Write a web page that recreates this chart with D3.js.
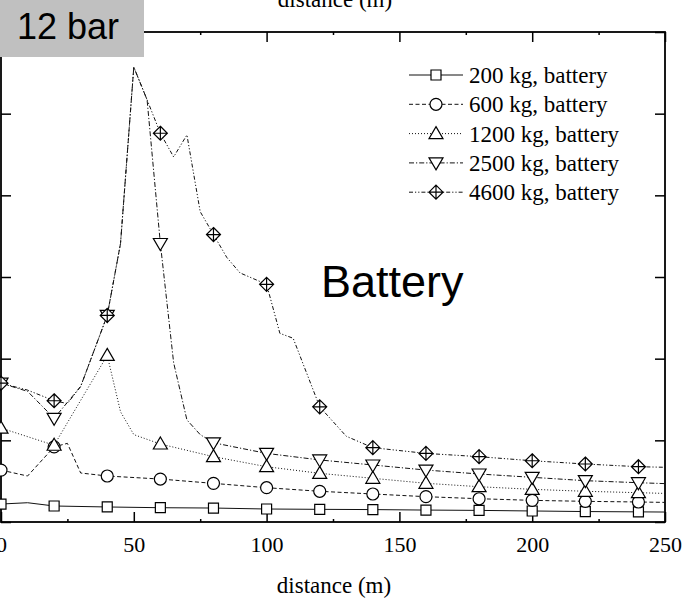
<!DOCTYPE html>
<html>
<head>
<meta charset="utf-8">
<script src="https://cdn.jsdelivr.net/npm/d3@7"></script>
<style>
  html, body { margin: 0; padding: 0; background: #fff; }
  svg { display: block; }
</style>
</head>
<body>
<svg id="chart" width="687" height="598"></svg>
<script>
// Distance (m) / value pairs for each load case, battery configuration.
const s200 = [[0,0.22],[10,0.236],[20,0.196],[40,0.184],[60,0.175],[80,0.171],[100,0.159],[120,0.155],[140,0.152],[160,0.146],[180,0.142],[200,0.135],[220,0.128],[240,0.124],[250,0.122]];
const s600 = [[0,0.636],[10,0.563],[20,0.92],[25,0.963],[30,0.6],[40,0.563],[60,0.526],[80,0.473],[100,0.42],[120,0.376],[140,0.343],[160,0.31],[180,0.285],[200,0.265],[220,0.253],[240,0.245],[250,0.24]];
const s1200 = [[0,1.15],[20,0.94],[40,2.04],[45,1.35],[50,1.07],[60,0.955],[80,0.8],[100,0.677],[120,0.596],[140,0.535],[160,0.474],[180,0.432],[200,0.4],[220,0.376],[240,0.359],[250,0.35]];
const s2500 = [[0,1.70],[10,1.6],[20,1.27],[30,1.66],[40,2.53],[45,3.41],[50,5.57],[55,5.17],[60,3.41],[65,1.95],[70,1.25],[75,1.07],[80,0.97],[100,0.84],[120,0.76],[140,0.698],[160,0.636],[180,0.588],[200,0.547],[220,0.506],[240,0.481],[250,0.47]];
const s4600 = [[0,1.70],[10,1.615],[20,1.485],[25,1.45],[30,1.66],[40,2.53],[45,3.41],[50,5.57],[55,5.17],[60,4.76],[65,4.47],[70,4.74],[75,3.8],[80,3.52],[85,3.24],[90,3.05],[95,2.98],[100,2.91],[105,2.31],[110,2.25],[120,1.41],[130,1.05],[140,0.91],[160,0.84],[180,0.8],[200,0.75],[220,0.71],[240,0.677],[250,0.67]];

const seriesNames = ["200 kg, battery", "600 kg, battery", "1200 kg, battery", "2500 kg, battery", "4600 kg, battery"];
const markerDistances = [0, 20, 40, 60, 80, 100, 120, 140, 160, 180, 200, 220, 240];
const xTicks = [0, 50, 100, 150, 200, 250];
const xMinorTicks = [25, 75, 125, 175, 225];
const yTicks = [0, 1, 2, 3, 4, 5, 6];

const svg = d3.select("#chart");
const plotLeft = 1, plotRight = 665, plotTop = 32, plotBottom = 522;
const x = d3.scaleLinear().domain([0, 250]).range([plotLeft, plotRight]);
const y = d3.scaleLinear().domain([0, 6]).range([plotBottom, plotTop]);

const serif = "'Liberation Serif', 'Times New Roman', serif";
const sans = "'Liberation Sans', Arial, sans-serif";

// marker shapes
const shapes = {
  square: "M-5,-5H5V5H-5Z",
  circle: d3.arc()({innerRadius: 0, outerRadius: 6, startAngle: 0, endAngle: 2 * Math.PI}),
  up: "M0,-7L7,5L-7,5Z",
  down: "M0,7L7,-5L-7,-5Z",
  diamond: "M0,-7L7,0L0,7L-7,0Z M0,-7V7 M-7,0H7"
};

const series = [
  {data: s200,  dash: null,              shape: "square"},
  {data: s600,  dash: "4,2.5",           shape: "circle"},
  {data: s1200, dash: "1,2",             shape: "up"},
  {data: s2500, dash: "5,2,1.2,2",       shape: "down"},
  {data: s4600, dash: "4,2,1.2,2,1.2,2", shape: "diamond"}
];
series.forEach((s, i) => s.name = seriesNames[i]);

// axes: ticks on all four sides, pointing inward
const axisG = svg.append("g");
function styleAxis(g) {
  g.select(".domain").remove();
  g.selectAll("line").attr("stroke", "#000").attr("stroke-width", 1.5);
}
axisG.append("g").attr("transform", `translate(0,${plotBottom})`)
  .call(d3.axisBottom(x).tickValues(xTicks).tickSize(-10).tickPadding(14).tickFormat(d3.format("d")))
  .call(styleAxis)
  .call(g => g.selectAll("text").attr("font-family", serif).attr("font-size", 22).attr("fill", "#000"));
axisG.append("g").attr("transform", `translate(0,${plotBottom})`)
  .call(d3.axisBottom(x).tickValues(xMinorTicks).tickSize(-3).tickFormat(""))
  .call(styleAxis);
axisG.append("g").attr("transform", `translate(0,${plotTop})`)
  .call(d3.axisTop(x).tickValues(xTicks).tickSize(-10).tickFormat(""))
  .call(styleAxis);
axisG.append("g").attr("transform", `translate(0,${plotTop})`)
  .call(d3.axisTop(x).tickValues(xMinorTicks).tickSize(-3).tickFormat(""))
  .call(styleAxis);
axisG.append("g").attr("transform", `translate(${plotLeft},0)`)
  .call(d3.axisLeft(y).tickValues(yTicks).tickSize(-10).tickFormat(""))
  .call(styleAxis);
axisG.append("g").attr("transform", `translate(${plotRight},0)`)
  .call(d3.axisRight(y).tickValues(yTicks).tickSize(-10).tickFormat(""))
  .call(styleAxis);

// plot frame
svg.append("rect")
  .attr("x", plotLeft).attr("y", plotTop)
  .attr("width", plotRight - plotLeft).attr("height", plotBottom - plotTop)
  .attr("fill", "none").attr("stroke", "#000").attr("stroke-width", 1.8);

// curves
const line = d3.line().x(d => x(d[0])).y(d => y(d[1]));
const plot = svg.append("g");
series.forEach(s => {
  plot.append("path")
    .attr("d", line(s.data))
    .attr("fill", "none")
    .attr("stroke", "#111")
    .attr("stroke-width", 1)
    .attr("stroke-dasharray", s.dash);
});
series.forEach(s => {
  const pts = s.data.filter(d => markerDistances.includes(d[0]));
  plot.selectAll(null).data(pts).enter().append("path")
    .attr("transform", d => `translate(${x(d[0])},${y(d[1])})`)
    .attr("d", shapes[s.shape])
    .attr("fill", "#fff")
    .attr("stroke", "#000")
    .attr("stroke-width", 1.2);
});

// legend
const legend = svg.append("g");
series.forEach((s, i) => {
  const ly = 75 + i * 29.3;
  legend.append("line")
    .attr("x1", 409).attr("x2", 463).attr("y1", ly).attr("y2", ly)
    .attr("stroke", "#111").attr("stroke-width", 1)
    .attr("stroke-dasharray", s.dash);
  legend.append("path")
    .attr("transform", `translate(436,${ly})`)
    .attr("d", shapes[s.shape])
    .attr("fill", "#fff").attr("stroke", "#000").attr("stroke-width", 1.2);
  legend.append("text")
    .attr("x", 469).attr("y", ly + 8)
    .attr("font-family", serif).attr("font-size", 23)
    .attr("fill", "#000")
    .text(s.name);
});

// axis titles (top and bottom)
svg.append("text")
  .attr("x", 334).attr("y", 593)
  .attr("text-anchor", "middle")
  .attr("font-family", serif).attr("font-size", 23)
  .text("distance (m)");
svg.append("text")
  .attr("x", 335).attr("y", 7)
  .attr("text-anchor", "middle")
  .attr("font-family", serif).attr("font-size", 23)
  .text("distance (m)");

// in-plot label
svg.append("text")
  .attr("x", 321).attr("y", 297)
  .attr("font-family", sans).attr("font-size", 45)
  .text("Battery");

// pressure badge
svg.append("rect")
  .attr("x", 0).attr("y", 0).attr("width", 144).attr("height", 57)
  .attr("fill", "#c0c0c0");
svg.append("text")
  .attr("x", 17).attr("y", 39)
  .attr("font-family", sans).attr("font-size", 36)
  .text("12 bar");
</script>
</body>
</html>
